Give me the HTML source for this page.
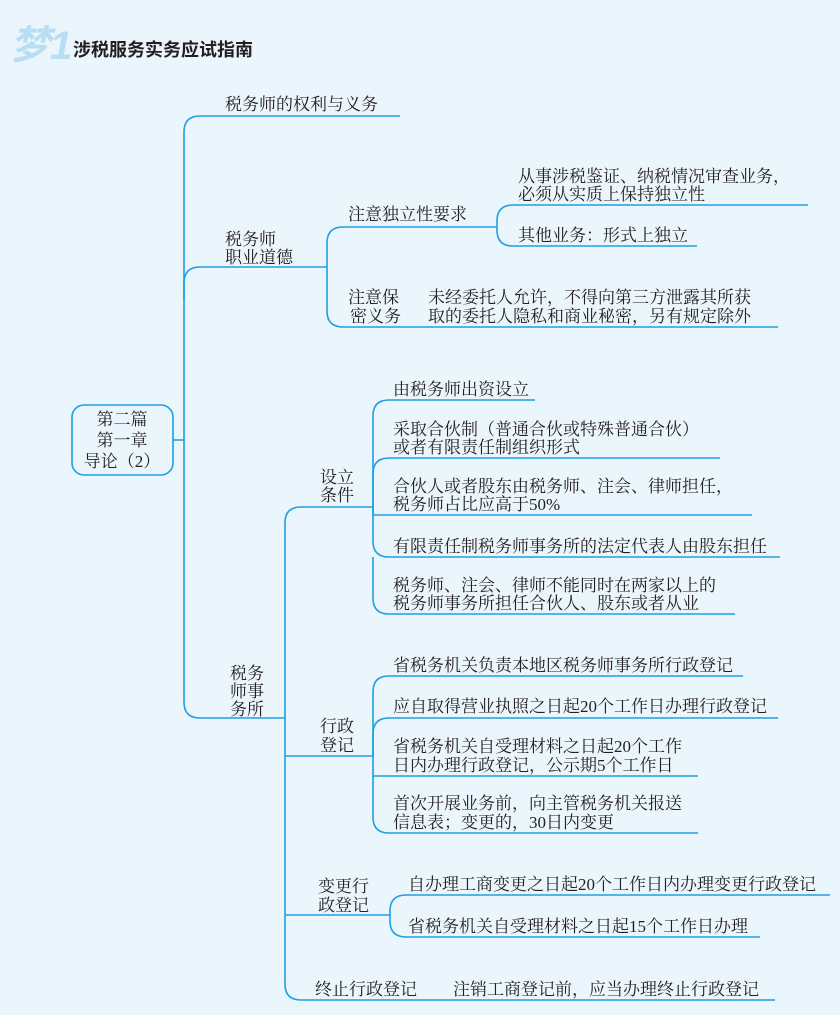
<!DOCTYPE html>
<html><head><meta charset="utf-8"><style>
html,body{margin:0;padding:0;background:#eaf5fc;}
svg{display:block}
text{font-family:"Liberation Serif","Noto Serif CJK SC",serif;font-size:17px;fill:#231f20}
</style></head><body>
<svg width="840" height="1015" viewBox="0 0 840 1015" xmlns="http://www.w3.org/2000/svg">
<rect width="840" height="1015" fill="#eaf5fc"/>
<text x="10" y="59" style="font-family:'Liberation Sans','Noto Sans CJK SC',sans-serif;font-size:40px;font-weight:bold;font-style:italic;fill:#b9def4">梦1</text>
<text x="73" y="56" style="font-family:'Liberation Sans','Noto Sans CJK SC',sans-serif;font-size:18px;font-weight:bold">涉税服务实务应试指南</text>
<g fill="none" stroke="#1ea0e2" stroke-width="1.6">
<rect x="72" y="405" width="101" height="70" rx="12"/>
<path d="M173,440 H184"/>
<path d="M184,440 V132 Q184,116 200,116 H400"/>
<path d="M184,300 V283 Q184,267 200,267 H327"/>
<path d="M184,440 V702 Q184,718 200,718 H285"/>
<path d="M327,267 V243 Q327,227 343,227 H497"/>
<path d="M327,267 V311 Q327,327 343,327 H778"/>
<path d="M497,227 V221 Q497,205 513,205 H808"/>
<path d="M497,227 V230 Q497,246 513,246 H697"/>
<path d="M285,718 V523 Q285,507 301,507 H373"/>
<path d="M285,718 V984 Q285,1000 301,1000 H775"/>
<path d="M285,756 H373"/>
<path d="M285,915 H390"/>
<path d="M373,507 V416 Q373,400 389,400 H535"/>
<path d="M373,507 V474 Q373,458 389,458 H720"/>
<path d="M373,507 V515 H752"/>
<path d="M373,507 V541 Q373,557 389,557 H780"/>
<path d="M373,557 V598 Q373,614 389,614 H735"/>
<path d="M373,756 V692 Q373,676 389,676 H743"/>
<path d="M373,756 V734 Q373,718 389,718 H778"/>
<path d="M373,756 V776 H698"/>
<path d="M373,776 V817 Q373,833 389,833 H698"/>
<path d="M390,915 V911 Q390,895 406,895 H830"/>
<path d="M390,915 V921 Q390,937 406,937 H760"/>
</g>
<text x="122" y="425" text-anchor="middle">第二篇</text>
<text x="122" y="446" text-anchor="middle">第一章</text>
<text x="122" y="467" text-anchor="middle">导论（2）</text>
<text x="225" y="110">税务师的权利与义务</text>
<text x="225" y="245">税务师</text>
<text x="225" y="263">职业道德</text>
<text x="348" y="220">注意独立性要求</text>
<text x="518" y="182">从事涉税鉴证、纳税情况审查业务，</text>
<text x="518" y="200">必须从实质上保持独立性</text>
<text x="518" y="241">其他业务：形式上独立</text>
<text x="348" y="303">注意保</text>
<text x="350" y="322">密义务</text>
<text x="428" y="303">未经委托人允许，不得向第三方泄露其所获</text>
<text x="428" y="322">取的委托人隐私和商业秘密，另有规定除外</text>
<text x="230" y="679">税务</text>
<text x="230" y="697">师事</text>
<text x="230" y="715">务所</text>
<text x="320" y="483">设立</text>
<text x="320" y="501">条件</text>
<text x="393" y="395">由税务师出资设立</text>
<text x="393" y="435">采取合伙制（普通合伙或特殊普通合伙）</text>
<text x="393" y="453">或者有限责任制组织形式</text>
<text x="393" y="492">合伙人或者股东由税务师、注会、律师担任，</text>
<text x="393" y="510">税务师占比应高于50%</text>
<text x="393" y="552">有限责任制税务师事务所的法定代表人由股东担任</text>
<text x="393" y="591">税务师、注会、律师不能同时在两家以上的</text>
<text x="393" y="609">税务师事务所担任合伙人、股东或者从业</text>
<text x="320" y="732">行政</text>
<text x="320" y="751">登记</text>
<text x="393" y="671">省税务机关负责本地区税务师事务所行政登记</text>
<text x="393" y="712">应自取得营业执照之日起20个工作日办理行政登记</text>
<text x="393" y="752">省税务机关自受理材料之日起20个工作</text>
<text x="393" y="771">日内办理行政登记，公示期5个工作日</text>
<text x="393" y="809">首次开展业务前，向主管税务机关报送</text>
<text x="393" y="828">信息表；变更的，30日内变更</text>
<text x="318" y="892">变更行</text>
<text x="318" y="911">政登记</text>
<text x="408" y="890">自办理工商变更之日起20个工作日内办理变更行政登记</text>
<text x="408" y="932">省税务机关自受理材料之日起15个工作日办理</text>
<text x="315" y="995">终止行政登记</text>
<text x="453" y="995">注销工商登记前，应当办理终止行政登记</text>
</svg>
</body></html>
